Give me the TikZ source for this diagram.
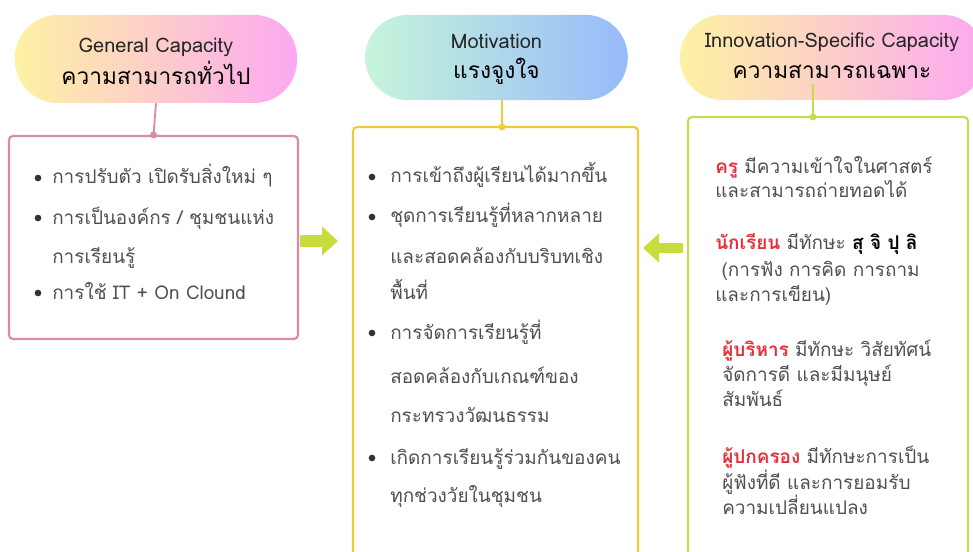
\documentclass[tikz,border=0pt]{standalone}
\usepackage{fontspec}
\setmainfont[Script=Thai]{Loma}
\usetikzlibrary{arrows.meta}
\definecolor{txtgray}{HTML}{505050}
\definecolor{pinkline}{HTML}{D98BA8}
\definecolor{yelline}{HTML}{EFCB3A}
\definecolor{grnline}{HTML}{C3DC52}
\definecolor{arrowgreen}{HTML}{C8DC3C}
\definecolor{redtxt}{HTML}{E8303A}
\definecolor{pyellow}{HTML}{FDF2A2}
\definecolor{ppink}{HTML}{FCA8F2}
\definecolor{pmint}{HTML}{C6F5DA}
\definecolor{pblue}{HTML}{98BAFA}
\tikzset{
  pill/.style={rounded corners=32pt, inner sep=0pt, align=center, text=black},
  boxnode/.style={draw, line width=1.6pt, rounded corners=3pt, fill=white, inner sep=0pt},
  body/.style={anchor=base west, inner sep=0pt, text=txtgray, font=\fontsize{14.2}{16}\selectfont},
  h1/.style={text=black!85, font=\fontsize{15}{17}\selectfont},
  h2/.style={text=black, font=\fontsize{17}{20}\selectfont},
  conn/.style={line width=1.4pt},
  bigarrow/.style={draw=arrowgreen, line width=9pt, -{Triangle[length=12pt,width=21pt]}},
  bul/.style={fill=black!80}
}
\newcommand{\hd}[1]{\textcolor{redtxt}{\bfseries #1}}
\begin{document}
\begin{tikzpicture}[x=0.75pt,y=-0.75pt]
\useasboundingbox (0,0) rectangle (973,552);
\begin{scope}
\clip (0,0) rectangle (973,552);
% pills
\node (p1) [pill, left color=pyellow, right color=ppink, minimum width=211.5pt, minimum height=66pt] at (156,59) {};
\node (p2) [pill, left color=pmint, right color=pblue, minimum width=197pt, minimum height=64pt] at (496.5,57.5) {};
\node (p3) [pill, left color=pyellow, right color=ppink, minimum width=229pt, minimum height=64pt] at (832.5,57.5) {};
% pill texts
\node (p1a) [h1, anchor=base] at (156,53) {General Capacity};
\node (p1b) [h2, anchor=base] at (156,85) {ความสามารถทั่วไป};
\node (p2a) [h1, anchor=base] at (496.5,49) {Motivation};
\node (p2b) [h2, anchor=base] at (496.5,79) {แรงจูงใจ};
\node (p3a) [h1, anchor=base] at (832,48) {Innovation-Specific Capacity};
\node (p3b) [h2, anchor=base] at (832,79) {ความสามารถเฉพาะ};
% boxes
\node (b1) [boxnode, draw=pinkline, minimum width=216.75pt, minimum height=152.25pt] at (153.5,237.5) {};
\node (b2) [boxnode, draw=yelline, minimum width=213.75pt, minimum height=340pt] at (495.5,353.7) {};
\node (b3) [boxnode, draw=grnline, minimum width=210pt, minimum height=347pt] at (828,348.3) {};
% connectors
\coordinate (c1) at (b1.north);
\coordinate (c2) at (502,127);
\coordinate (c3) at (813,117);
\draw[conn, pinkline] (p1.south) -- (c1);
\fill[pinkline] (c1) circle (2.6pt);
\draw[conn, yelline] (c2 |- p2.south) -- (c2);
\fill[yelline] (c2) circle (2.6pt);
\draw[conn, grnline] (c3 |- p3b.south) -- (c3);
\fill[grnline] (c3) circle (2.6pt);
% arrows
\coordinate (a1s) at (300,241);
\coordinate (a1e) at (338,241);
\coordinate (a3s) at (683,248);
\coordinate (a3e) at (643,248);
\draw[bigarrow] (a1s) -- (a1e);
\draw[bigarrow, line width=8pt] (a3s) -- (a3e);
% box 1 text
\foreach \y in {184,224,299} \fill[bul] (38,\y-6) circle (2.5pt);
\node (t11) [body] at (52,184) {การปรับตัว เปิดรับสิ่งใหม่ ๆ};
\node (t12) [body] at (52,224) {การเป็นองค์กร / ชุมชนแห่ง};
\node (t13) [body] at (52,263) {การเรียนรู้};
\node (t14) [body] at (52,299) {การใช้ IT + On Clound};
% box 2 text
\foreach \y in {183,223,339,464} \fill[bul] (372,\y-6) circle (2.5pt);
\node (t21) [body] at (390,183) {การเข้าถึงผู้เรียนได้มากขึ้น};
\node (t22) [body] at (390,223) {ชุดการเรียนรู้ที่หลากหลาย};
\node (t23) [body] at (390,263) {และสอดคล้องกับบริบทเชิง};
\node (t24) [body] at (390,299) {พื้นที่};
\node (t25) [body] at (390,339) {การจัดการเรียนรู้ที่};
\node (t26) [body] at (390,383) {สอดคล้องกับเกณฑ์ของ};
\node (t27) [body] at (390,422) {กระทรวงวัฒนธรรม};
\node (t28) [body] at (390,464) {เกิดการเรียนรู้ร่วมกันของคน};
\node (t29) [body] at (390,502) {ทุกช่วงวัยในชุมชน};
% box 3 text
\node (t31) [body] at (715,174) {\hd{ครู} มีความเข้าใจในศาสตร์};
\node (t32) [body] at (715,198) {และสามารถถ่ายทอดได้};
\node (t33) [body] at (715,249) {\hd{นักเรียน} มีทักษะ \textcolor{black}{\bfseries สุ จิ ปุ ลิ}};
\node (t34) [body] at (715,276) {\ (การฟัง การคิด การถาม};
\node (t35) [body] at (715,301) {และการเขียน)};
\node (t36) [body] at (722,356) {\hd{ผู้บริหาร} มีทักษะ วิสัยทัศน์};
\node (t37) [body] at (722,381) {จัดการดี และมีมนุษย์};
\node (t38) [body] at (722,406) {สัมพันธ์};
\node (t39) [body] at (722,463) {\hd{ผู้ปกครอง} มีทักษะการเป็น};
\node (t40) [body] at (722,489) {ผู้ฟังที่ดี และการยอมรับ};
\node (t41) [body] at (722,514) {ความเปลี่ยนแปลง};
\end{scope}
\end{tikzpicture}
\end{document}
